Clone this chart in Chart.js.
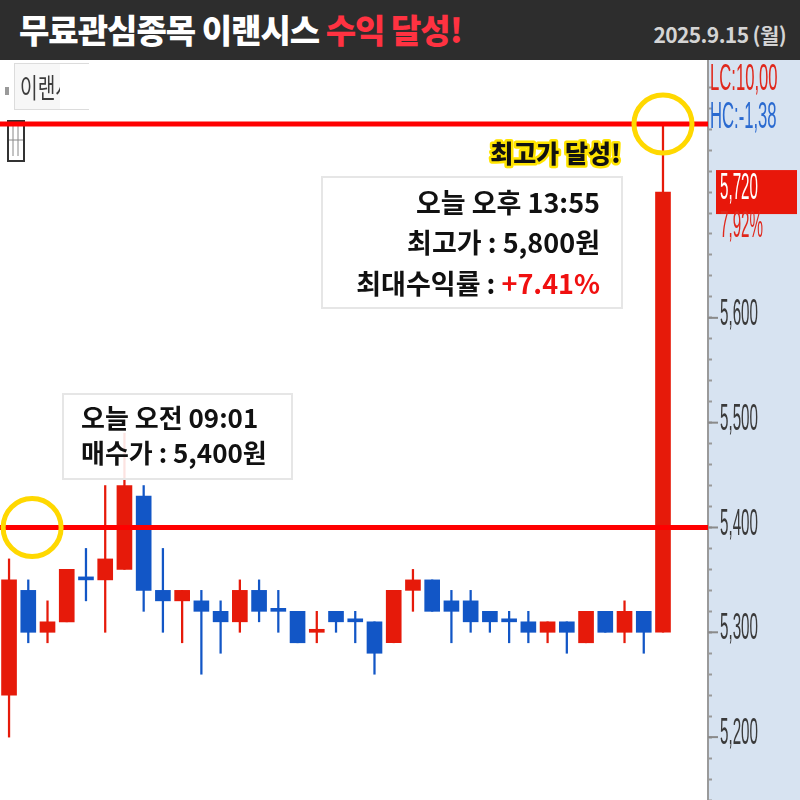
<!DOCTYPE html>
<html><head><meta charset="utf-8">
<script src="https://cdn.jsdelivr.net/npm/chart.js@4.4.1/dist/chart.umd.min.js"></script>
<style>
html,body{margin:0;padding:0;background:#fff;}
#hdr{position:absolute;left:0;top:0;width:800px;height:60px;background:#2d2d2d;font-family:'Noto Sans CJK KR','Noto Sans',sans-serif;}
#title{position:absolute;left:19px;top:8px;font-size:33px;font-weight:900;color:#fff;letter-spacing:-1px;line-height:42px;white-space:nowrap;}
#title span{color:#ff3241;}
#date{position:absolute;right:14px;top:20px;font-size:21px;font-weight:700;color:#d4d4d4;letter-spacing:-0.6px;line-height:28px;}
#wrap{position:absolute;left:0;top:60px;width:800px;height:740px;}
</style></head>
<body>
<div id="hdr"><div id="title">무료관심종목 이랜시스 <span>수익 달성!</span></div><div id="date">2025.9.15 (월)</div></div>
<div id="wrap"><canvas id="c"></canvas></div>
<script>
// ---- data ----
const opens  = [5240,5340,5300,5310,5350,5350,5360,5430,5340,5330,5330,5320,5310,5340,5320,5320,5300,5320,5310,5310,5290,5340,5350,5330,5330,5320,5310,5310,5300,5310,5290,5320,5300,5320,5300];
const closes = [5350,5300,5310,5360,5350,5370,5440,5340,5330,5340,5320,5310,5340,5320,5320,5290,5300,5310,5310,5280,5340,5350,5320,5320,5310,5310,5310,5300,5310,5300,5320,5300,5320,5300,5720];
const highs  = [5370,5350,5330,5360,5380,5440,5490,5440,5380,5340,5340,5330,5350,5350,5340,5320,5320,5320,5320,5310,5340,5360,5350,5340,5340,5320,5320,5320,5310,5310,5320,5320,5330,5320,5785];
const lows   = [5200,5290,5290,5310,5330,5300,5360,5320,5300,5290,5260,5280,5300,5310,5300,5290,5290,5300,5290,5260,5290,5320,5320,5290,5300,5300,5290,5290,5290,5280,5290,5300,5290,5280,5300];
const buyPrice = 5400;
const peakLine = 5785;
const buyCircle = [1.2, 5400];
const peakCircle = [34, 5785];
const yMin = 5140, yMax = 5846;
const xMin = -0.47, xMax = 36.34;
const lastClose = 5720;
const lastPrice = '5,720', lastPct = '7,92%';
const lcText = 'LC:10,00', hcText = 'HC:-1,38';
const maxLabel = 5600;

const RED = '#e61a0a', BLUE = '#1256c6';
const colors = opens.map((o,i)=>{
  const c = closes[i];
  if (c > o) return RED;
  if (c < o) return BLUE;
  const prev = i>0 ? closes[i-1] : o;
  return c > prev ? RED : BLUE;
});
const bodies = opens.map((o,i)=>({x:i, y:[o, closes[i]]}));
const wicks = lows.map((l,i)=>({x:i, y:[l, highs[i]]}));
const fmt = v => v.toLocaleString('en-US');
const narrow = "'Liberation Sans','Arial',sans-serif";

function drawNarrow(ctx, text, x, y, color, size, sx){
  ctx.save();
  ctx.translate(x, y);
  ctx.scale(sx, 1);
  ctx.font = size + 'px ' + narrow;
  ctx.fillStyle = color;
  ctx.textBaseline = 'middle';
  ctx.textAlign = 'left';
  ctx.fillText(text, 0, 0);
  ctx.restore();
}

const deco = {
  id:'deco',
  beforeDraw(chart){
    const {ctx, chartArea:a, width, height} = chart;
    ctx.save();
    ctx.fillStyle = '#d7e3f1';
    ctx.fillRect(a.right, 0, width - a.right, height);
    ctx.fillStyle = '#fff';
    ctx.fillRect(0, 0, a.right, height);
    // top-left artifacts
    ctx.strokeStyle = '#dcdcdc'; ctx.lineWidth = 1;
    ctx.fillStyle = '#f7f7f7';
    ctx.fillRect(14.5, 3.5, 74, 46); ctx.strokeRect(14.5, 3.5, 74, 46);
    ctx.fillStyle = '#fff'; ctx.fillRect(60, 4, 29, 45);
    ctx.fillStyle = '#9a9a9a'; ctx.fillRect(5, 27, 4, 8);
    ctx.save(); ctx.beginPath(); ctx.rect(18,4,42,46); ctx.clip();
    ctx.translate(20, 28); ctx.scale(0.8, 1.15);
    ctx.font = '24px "Noto Sans CJK KR"'; ctx.fillStyle = '#3c3c3c'; ctx.textBaseline='middle';
    ctx.fillText('이랜시', 0, 0); ctx.restore();
    ctx.strokeStyle = '#333'; ctx.lineWidth = 2;
    ctx.strokeRect(8, 61, 16, 40);
    ctx.lineWidth = 1; ctx.strokeStyle='#888';
    ctx.beginPath(); ctx.moveTo(13,66); ctx.lineTo(13,96); ctx.moveTo(18,66); ctx.lineTo(18,96); ctx.moveTo(9,80); ctx.lineTo(23,80); ctx.stroke();
    ctx.restore();
  },
  afterDraw(chart){
    const {ctx, chartArea:a, scales} = chart;
    const y = scales.y;
    ctx.save();
    // axis tick labels and long major ticks (from the scale's own ticks)
    y.ticks.forEach(t => {
      if (t.value % 100 === 0 && t.value <= maxLabel) {
        const p = y.getPixelForValue(t.value);
        ctx.fillStyle = '#8a8a8a';
        ctx.fillRect(a.right, p - 1, 10, 2);
        drawNarrow(ctx, fmt(t.value), a.right + 12, p - 3, '#3a3a3a', 37, 0.41);
      }
    });
    // right panel texts
    drawNarrow(ctx, lcText, a.right + 2, 20, '#e0281c', 37, 0.45);
    drawNarrow(ctx, hcText, a.right + 2, 58, '#2a6ad0', 37, 0.45);
    const py = y.getPixelForValue(lastClose);
    ctx.fillStyle = '#e8170a';
    ctx.fillRect(a.right + 8, py - 22, 81, 44);
    drawNarrow(ctx, lastPrice, a.right + 12, py - 3, '#ffffff', 37, 0.41);
    drawNarrow(ctx, lastPct, a.right + 12, py + 35, '#e0281c', 37, 0.41);

    // annotation boxes
    const f = '700 26px "Noto Sans CJK KR","Noto Sans",sans-serif';
    ctx.fillStyle = 'rgba(255,255,255,0.88)';
    ctx.strokeStyle = '#e6e6e6'; ctx.lineWidth = 2;
    ctx.fillRect(63, 334, 229, 85); ctx.strokeRect(63, 334, 229, 85);
    ctx.font = f; ctx.fillStyle = '#111'; ctx.textBaseline = 'alphabetic'; ctx.textAlign = 'left';
    ctx.fillText('오늘 오전 09:01', 81, 368);
    ctx.fillText('매수가 : 5,400원', 81, 403);

    ctx.fillStyle = 'rgba(255,255,255,0.9)';
    ctx.fillRect(322, 117, 300, 131); ctx.strokeRect(322, 117, 300, 131);
    ctx.font = '700 27px "Noto Sans CJK KR","Noto Sans",sans-serif';
    ctx.textAlign = 'right'; ctx.fillStyle = '#111';
    ctx.fillText('오늘 오후 13:55', 600, 153);
    ctx.fillText('최고가 : 5,800원', 600, 193);
    const pct = '+7.41%';
    const pw = ctx.measureText(pct).width;
    ctx.fillStyle = '#f01010'; ctx.fillText(pct, 600, 234);
    ctx.fillStyle = '#111'; ctx.fillText('최대수익률 : ', 600 - pw, 234);

    // 최고가 달성!
    ctx.font = '900 25px "Noto Sans CJK KR","Noto Sans",sans-serif';
    ctx.lineJoin = 'round';
    ctx.strokeStyle = '#ffe400'; ctx.lineWidth = 5;
    ctx.strokeText('최고가 달성!', 621, 103);
    ctx.fillStyle = '#111';
    ctx.fillText('최고가 달성!', 621, 103);
    ctx.restore();
  }
};

new Chart(document.getElementById('c'), {
  data: {
    datasets: [
      {type:'bar', data: wicks, backgroundColor: colors, barThickness: 1.6, grouped:false, order:4, borderWidth:0},
      {type:'bar', data: bodies, backgroundColor: colors, barThickness: 15, minBarLength: 3, grouped:false, order:3, borderWidth:0},
      {type:'line', data: [{x:xMin,y:buyPrice},{x:xMax,y:buyPrice}], borderColor:'#ff0000', borderWidth:5, pointRadius:0, order:2},
      {type:'line', data: [{x:xMin,y:peakLine},{x:xMax,y:peakLine}], borderColor:'#ff0000', borderWidth:5, pointRadius:0, order:2},
      {type:'scatter', data: [{x:buyCircle[0],y:buyCircle[1]},{x:peakCircle[0],y:peakCircle[1]}], pointRadius:29, pointHoverRadius:29, borderColor:'#ffd800', borderWidth:5, backgroundColor:'rgba(0,0,0,0)', order:1, clip:false}
    ]
  },
  options: {
    responsive:true, maintainAspectRatio:false, animation:false,
    layout:{padding:0, autoPadding:false},
    plugins:{legend:{display:false}, tooltip:{enabled:false}},
    scales:{
      x:{type:'linear', min:xMin, max:xMax, display:false, offset:false},
      y:{type:'linear', position:'right', min:yMin, max:yMax,
        afterFit(s){ s.width = 92; },
        ticks:{stepSize:20, autoSkip:false, padding:3, display:false},
        grid:{drawOnChartArea:false, drawTicks:true, tickLength:4,
          tickColor: c => (c.tick && c.tick.value % 20 === 0 ? '#9a9a9a' : 'rgba(0,0,0,0)'), tickWidth:2},
        border:{display:true, color:'#9a9a9a', width:2}
      }
    }
  },
  plugins:[deco]
});
</script>
</body></html>
